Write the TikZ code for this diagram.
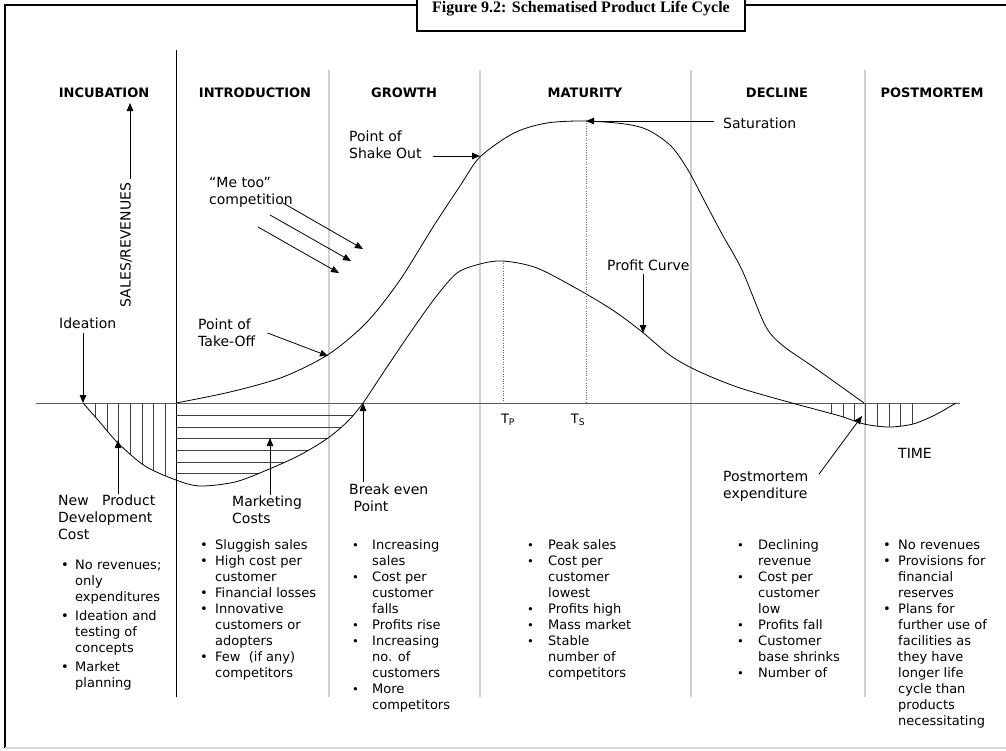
\documentclass[tikz,border=0pt]{standalone}
\usepackage{fontspec}
\newfontfamily\vfont{DejaVu Sans}
\newfontfamily\tfont{Liberation Serif}
\newcommand{\sbul}{\raisebox{0.6pt}{\fontsize{11.5}{11.5}\selectfont\textbullet}}
\usetikzlibrary{arrows.meta,positioning}

\begin{document}
\begin{tikzpicture}[x=1pt,y=-1pt,>={Triangle[length=8pt,width=6.5pt]},
  arr/.style={->,line width=0.8pt},
  lbl/.style={font=\vfont\fontsize{14}{17}\selectfont,align=left,inner sep=0pt,anchor=west},
  colhead/.style={font=\vfont\bfseries\fontsize{13}{15}\selectfont,inner sep=0pt},
  blist/.style={font=\vfont\fontsize{13}{16}\selectfont,inner sep=0pt,anchor=north west},
  colsep/.style={draw=black!18,line width=1.2pt},
  lcurve/.style={line width=0.8pt,smooth},
  hatch/.style={line width=0.7pt,black!75}]

\useasboundingbox (0,0) rectangle (1006,750);

\node[draw,line width=2pt,minimum width=328pt,minimum height=44pt,anchor=south,
  font=\tfont\bfseries\fontsize{16}{19}\selectfont] (title) at (581,32) {Figure 9.2: Schematised Product Life Cycle};

\coordinate (tl) at (5,5);
\coordinate (tr) at (1010,5);
\coordinate (bl) at (5,748);
\coordinate (br) at (1010,748);
\draw[line width=2pt] (title.west |- tl) -- (tl) -- (bl);
\draw[line width=2pt] (title.east |- tl) -- (tr);
\draw[black!15,line width=1.2pt] (bl) -- (br);

\draw[line width=0.9pt] (176,50) -- (176,697);
\foreach \x in {329,480,691,865}
  \draw[colsep] (\x,70) -- (\x,697);

\node[colhead] (hinc) at (104,93) {INCUBATION};
\node[colhead] (hintro) at (255,93) {INTRODUCTION};
\node[colhead] (hgrow) at (404,93) {GROWTH};
\node[colhead] (hmat) at (585,93) {MATURITY};
\node[colhead] (hdec) at (777,93) {DECLINE};
\node[colhead] (hpost) at (932,93) {POSTMORTEM};

\coordinate (ax0) at (36,403);
\coordinate (ax1) at (960,403);
\draw[black!65,line width=0.9pt] (ax0) -- (ax1);

\node[lbl,anchor=center,rotate=90,inner sep=4pt] (salesax) at (126,245) {SALES/REVENUES};
\coordinate (ytop) at (130,103);
\draw[arr] (salesax.east -| ytop) -- (ytop);

% hatching
\begin{scope}
\clip plot[smooth] coordinates {(83,403) (98,420) (118,443) (145,466) (176,480) (200,486) (235,482) (267,470) (300,455) (328,438) (348,421) (363,403) (385,370) (410,333) (435,298) (457,273) (480,264) (503,261) (537,268) (581,291) (614,311) (641,331) (671,356) (700,372) (740,388) (792,403) (840,416) (864,424) (889,427) (913,424) (935,415) (956,403)} -- cycle;
\foreach \x in {95,107,118,130,142,153,165,831,843,854,865,877,889,900,912}
  \draw[hatch] (\x,403) -- (\x,500);
\foreach \y in {415,427,438,450,462,473}
  \draw[hatch] (176,\y) -- (380,\y);
\end{scope}

\draw[lcurve] plot coordinates {(176,403) (230,392) (283,377) (329,354) (367,322) (400,280) (433,227) (460,186) (480,157) (514,133) (547,123) (586,121) (625,124) (648,130) (671,146) (688,170) (705,202) (722,234) (742,270) (765,325) (782,345) (815,368) (864,403)};
\draw[lcurve] plot coordinates {(83,403) (98,420) (118,443) (145,466) (176,480) (200,486) (235,482) (267,470) (300,455) (328,438) (348,421) (363,403) (385,370) (410,333) (435,298) (457,273) (480,264) (503,261) (537,268) (581,291) (614,311) (641,331) (671,356) (700,372) (740,388) (792,403) (840,416) (864,424) (889,427) (913,424) (935,415) (956,403)};

\coordinate (tptop) at (503,261);
\coordinate (tpax) at (503,403);
\coordinate (tstop) at (586,121);
\coordinate (tsax) at (586,403);
\draw[dotted,black!60] (tptop) -- (tpax);
\draw[dotted,black!60] (tstop) -- (tsax);
\node[font=\vfont\fontsize{13}{15}\selectfont,inner sep=0pt] (tp) at (508,420) {T\textsubscript{P}};
\node[font=\vfont\fontsize{13}{15}\selectfont,inner sep=0pt] (ts) at (578,420) {T\textsubscript{S}};

\node[lbl] (ideation) at (59,323) {Ideation};
\coordinate (ideapt) at (83,403);
\draw[arr,shorten <=4pt] (ideation.south -| ideapt) -- (ideapt);

\node[lbl] (takeoff) at (198,333) {Point of\\Take-Off};
\coordinate (tkpt) at (328,356);
\draw[arr] ([xshift=12pt]takeoff.east) -- (tkpt);

\node[lbl] (metoo) at (209,192) {“Me too”\\competition};
\coordinate (mt1) at (363,249);
\coordinate (mt2) at (351,261);
\coordinate (mt3) at (339,273);
\draw[arr] ([xshift=-10pt,yshift=-11pt]metoo.east) -- (mt1);
\draw[arr] ([xshift=-23pt,yshift=-23pt]metoo.east) -- (mt2);
\draw[arr] ([xshift=-35pt,yshift=-35pt]metoo.east) -- (mt3);

\node[lbl] (shake) at (349,144.5) {Point of\\Shake Out};
\coordinate (shpt) at (480,156);
\draw[arr] ([xshift=11pt,yshift=-11.5pt]shake.east) -- (shpt);

\node[lbl] (satur) at (723,123) {Saturation};
\draw[arr] ([xshift=-9pt,yshift=2pt]satur.west) -- (tstop);

\node[lbl] (profit) at (607,265) {Profit Curve};
\coordinate (pcpt) at (643,333);
\draw[arr,shorten <=3pt] (profit.south -| pcpt) -- (pcpt);

\node[lbl] (npd) at (58,517) {New\ \ \ Product\\Development\\Cost};
\coordinate (npdpt) at (118,440);
\draw[arr] (npd.north -| npdpt) -- (npdpt);

\node[lbl] (mkt) at (232,509.5) {Marketing\\Costs};
\coordinate (mkpt) at (270,438);
\draw[arr] (mkt.north -| mkpt) -- (mkpt);

\node[lbl] (beven) at (349,497.5) {Break even\\\hspace*{4.5pt}Point};
\coordinate (bept) at (363,403);
\draw[arr,shorten <=1pt] (beven.north -| bept) -- (bept);

\node[lbl] (pmexp) at (723,486.5) {Postmortem\\expenditure};
\coordinate (pmpt) at (862,416);
\draw[arr] ([xshift=10.5pt,yshift=-3pt]pmexp.north east) -- (pmpt);

\node[lbl] (time) at (898,453) {TIME};

% stage notes
\node[blist] (ninc) at (61,558.5) {\begin{tabular}{@{}p{14pt}@{}l@{}}
\textbullet & No revenues;\\ & only\\ & expenditures\\[3pt]
\textbullet & Ideation and\\ & testing of\\ & concepts\\[3pt]
\textbullet & Market\\ & planning
\end{tabular}};
\node[blist] (nintro) at (200,538.5) {\begin{tabular}{@{}p{15pt}@{}l@{}}
\textbullet & Sluggish sales\\
\textbullet & High cost per\\ & customer\\
\textbullet & Financial losses\\
\textbullet & Innovative\\ & customers or\\ & adopters\\
\textbullet & Few\ \ (if any)\\ & competitors
\end{tabular}};
\node[blist] (ngrow) at (352,538.5) {\begin{tabular}{@{}p{20pt}@{}l@{}}
\sbul & Increasing\\ & sales\\
\sbul & Cost per\\ & customer\\ & falls\\
\sbul & Profits rise\\
\sbul & Increasing\\ & no. of\\ & customers\\
\sbul & More\\ & competitors
\end{tabular}};
\node[blist] (nmat) at (527,538.5) {\begin{tabular}{@{}p{21pt}@{}l@{}}
\sbul & Peak sales\\
\sbul & Cost per\\ & customer\\ & lowest\\
\sbul & Profits high\\
\sbul & Mass market\\
\sbul & Stable\\ & number of\\ & competitors
\end{tabular}};
\node[blist] (ndec) at (737,538.5) {\begin{tabular}{@{}p{21pt}@{}l@{}}
\sbul & Declining\\ & revenue\\
\sbul & Cost per\\ & customer\\ & low\\
\sbul & Profits fall\\
\sbul & Customer\\ & base shrinks\\
\sbul & Number of
\end{tabular}};
\node[blist] (npost) at (883,538.5) {\begin{tabular}{@{}p{15pt}@{}l@{}}
\textbullet & No revenues\\
\textbullet & Provisions for\\ & financial\\ & reserves\\
\textbullet & Plans for\\ & further use of\\ & facilities as\\ & they have\\ & longer life\\ & cycle than\\ & products\\ & necessitating
\end{tabular}};
\end{tikzpicture}
\end{document}
